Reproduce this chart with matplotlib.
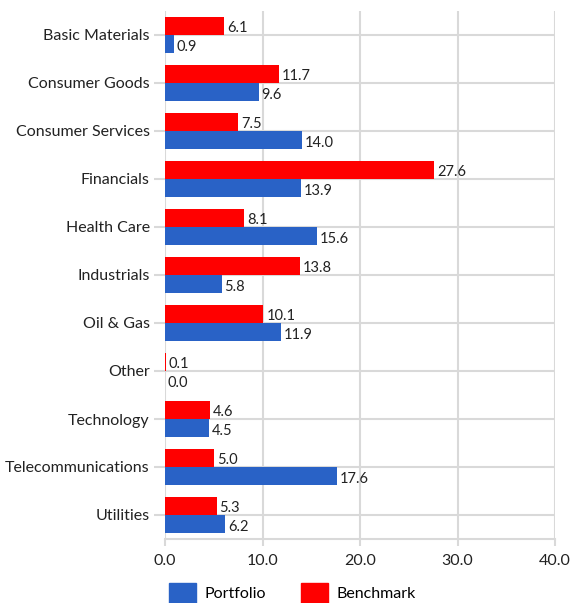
import matplotlib
matplotlib.use("Agg")
import matplotlib.pyplot as plt
import numpy as np
from matplotlib.patches import Patch

categories = ["Basic Materials", "Consumer Goods", "Consumer Services", "Financials",
              "Health Care", "Industrials", "Oil & Gas", "Other", "Technology",
              "Telecommunications", "Utilities"]
benchmark = [6.1, 11.7, 7.5, 27.6, 8.1, 13.8, 10.1, 0.1, 4.6, 5.0, 5.3]
portfolio = [0.9, 9.6, 14.0, 13.9, 15.6, 5.8, 11.9, 0.0, 4.5, 17.6, 6.2]
xticks = [0, 10, 20, 30, 40]

plt.rcParams['font.family'] = ['Lato', 'DejaVu Sans']

fig = plt.figure(figsize=(5.73, 6.03), dpi=100)
ax = fig.add_axes([165/573, 1-539/603, 390/573, 528/603])

y = np.arange(len(categories))
h = 0.38
blue = "#2962C6"
red = "#FF0000"
ax.barh(y - h/2, benchmark, height=h, color=red, zorder=3)
ax.barh(y + h/2, portfolio, height=h, color=blue, zorder=3)

for yi, v in zip(y, benchmark):
    ax.text(v + 0.3, yi - h/2 + 0.05, f"{v:.1f}", va="center", ha="left", fontsize=10.5, color="#222222", zorder=4)
for yi, v in zip(y, portfolio):
    ax.text(v + 0.3, yi + h/2 + 0.05, f"{v:.1f}", va="center", ha="left", fontsize=10.5, color="#222222", zorder=4)

ax.set_ylim(len(categories) - 0.5, -0.5)
ax.set_xlim(0, 40)
ax.set_yticks(y)
ax.set_yticklabels(categories, fontsize=11.5, color="#222222")
ax.set_xticks(xticks)
ax.set_xticklabels([f"{t:.1f}" for t in xticks], fontsize=11.5, color="#222222")
ax.tick_params(axis='y', length=8, color="#d9d9d9", width=1.5, pad=3)
ax.tick_params(axis='x', length=5, color="#d9d9d9", width=1.5, pad=6)
ax.grid(True, axis='both', color="#d9d9d9", linewidth=1.5, zorder=0)
for s in ["top", "right", "left"]:
    ax.spines[s].set_visible(False)
ax.spines["bottom"].set_color("#d9d9d9")
ax.spines["bottom"].set_linewidth(1.5)

handles = [Patch(color=blue, label="Portfolio"), Patch(color=red, label="Benchmark")]
fig.legend(handles=handles, loc="center", bbox_to_anchor=(0.51, 1-593/603), ncol=2,
           frameon=False, fontsize=11.5, handlelength=1.7, handleheight=1.5,
           columnspacing=2.2, handletextpad=0.5, borderpad=0)

fig.savefig("out.png", dpi=100)
